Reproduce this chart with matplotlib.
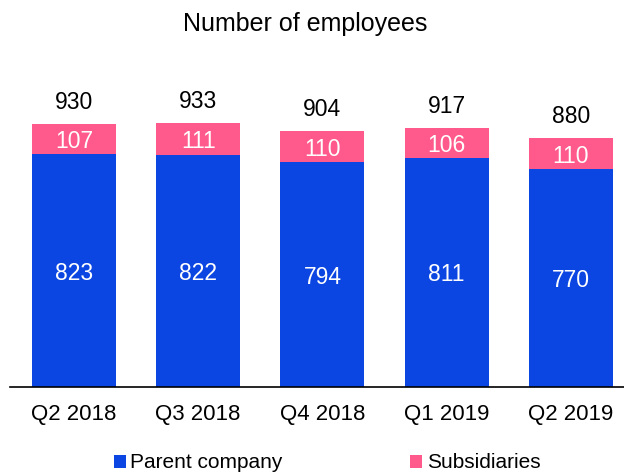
import matplotlib
matplotlib.use("Agg")
import matplotlib.pyplot as plt
import numpy as np

plt.rcParams['font.family'] = ['Liberation Sans', 'DejaVu Sans']

categories = ["Q2 2018", "Q3 2018", "Q4 2018", "Q1 2019", "Q2 2019"]
parent = [823, 822, 794, 811, 770]
subsidiaries = [107, 111, 110, 106, 110]
totals = [930, 933, 904, 917, 880]

blue = "#0B45E2"
pink = "#FF5A8B"

fig = plt.figure(figsize=(6.24, 4.76), dpi=100)
ax = fig.add_axes([10 / 624, 89 / 476, 614 / 624, 323 / 476])

x = np.arange(len(categories))
w = 0.676
b1 = ax.bar(x, parent, width=w, color=blue, label="Parent company")
b2 = ax.bar(x, subsidiaries, width=w, bottom=parent, color=pink, label="Subsidiaries")

for xi, p, s, t in zip(x, parent, subsidiaries, totals):
    ax.text(xi, p / 2, f"{p}", ha="center", va="center_baseline", color="white", fontsize=16.5)
    ax.text(xi, p + s / 2, f"{s}", ha="center", va="center_baseline", color="white", fontsize=16.5)
    ax.annotate(f"{t}", (xi, p + s), xytext=(0, 10.8), textcoords="offset points",
                ha="center", va="baseline", color="black", fontsize=16.5)

ax.set_xlim(-0.515, 4.428)
ax.set_ylim(0, 1142)
ax.set_xticks(x)
ax.set_xticklabels(categories, fontsize=16)
ax.tick_params(axis="x", length=0, pad=12)
ax.set_yticks([])
for sp in ["left", "right", "top"]:
    ax.spines[sp].set_visible(False)
ax.spines["bottom"].set_linewidth(1.2)

fig.text(0.489, 1 - 21 / 476, "Number of employees", fontsize=18,
         ha="center", va="center_baseline")

fig.legend(handles=[b1, b2], loc="center", bbox_to_anchor=(0.524, 1 - 463 / 476), ncol=2,
           frameon=False, fontsize=15, handlelength=0.6, handleheight=0.6,
           handletextpad=0.2, columnspacing=6.1, borderpad=0, borderaxespad=0)

fig.savefig("out.png", dpi=100)
